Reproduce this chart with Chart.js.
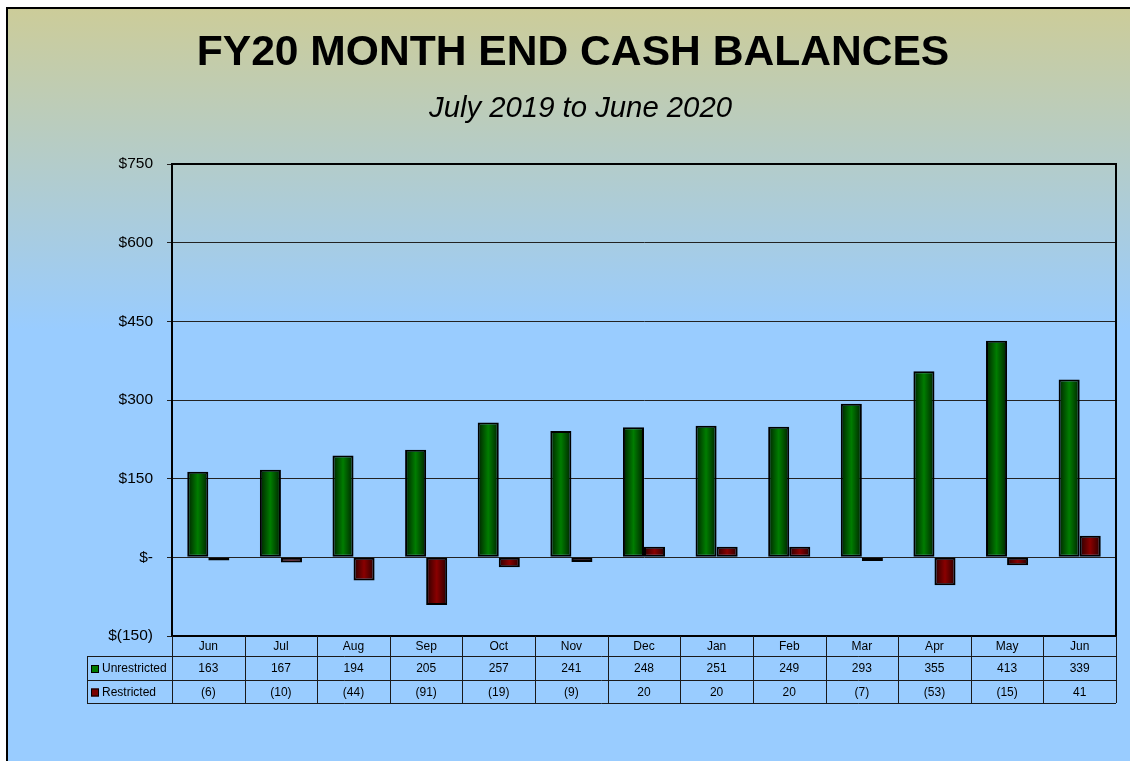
<!DOCTYPE html>
<html>
<head>
<meta charset="utf-8">
<title>FY20 Month End Cash Balances</title>
<script src="https://cdn.jsdelivr.net/npm/chart.js@4"></script>
<style>
  html, body { margin: 0; padding: 0; background: #fff; }
  canvas { display: block; }
</style>
</head>
<body>
<canvas id="cash-chart" width="1130" height="761"></canvas>
<script>
// values in $ millions
const months = ['Jun', 'Jul', 'Aug', 'Sep', 'Oct', 'Nov', 'Dec', 'Jan', 'Feb', 'Mar', 'Apr', 'May', 'Jun'];
const unrestricted = [163, 167, 194, 205, 257, 241, 248, 251, 249, 293, 355, 413, 339];
const restricted = [-6, -10, -44, -91, -19, -9, 20, 20, 20, -7, -53, -15, 41];
const seriesNames = ['Unrestricted', 'Restricted'];
const yTicks = [-150, 0, 150, 300, 450, 600, 750];

const FONT = '"Liberation Sans", Arial, sans-serif';
const CAT_PCT = 0.58;

function money(v) {
  if (v === 0) return '$-';
  if (v < 0) return '$(' + Math.abs(v) + ')';
  return '$' + v;
}

function tableNum(v) {
  return v < 0 ? '(' + Math.abs(v) + ')' : String(v);
}

// horizontal shading on each bar, edges dark, middle light
function barFill(dark, light) {
  return (ctx) => {
    const chart = ctx.chart;
    const xs = chart.scales.x;
    if (!xs || ctx.type !== 'data') return light;
    const half = (xs.right - xs.left) / months.length * CAT_PCT / 2;
    const cx = xs.getPixelForValue(ctx.dataIndex);
    const x0 = ctx.datasetIndex === 0 ? cx - half : cx;
    if (!isFinite(x0) || half <= 0) return light;
    const g = chart.ctx.createLinearGradient(x0, 0, x0 + half, 0);
    g.addColorStop(0, dark);
    g.addColorStop(0.5, light);
    g.addColorStop(1, dark);
    return g;
  };
}

const backdrop = {
  id: 'backdrop',
  beforeDraw(chart) {
    const { ctx, width, height } = chart;
    ctx.save();
    ctx.fillStyle = '#fff';
    ctx.fillRect(0, 0, width, height);
    const g = ctx.createLinearGradient(0, 9, 0, 330);
    g.addColorStop(0, '#cccc99');
    g.addColorStop(1, '#99ccff');
    ctx.fillStyle = g;
    ctx.fillRect(8, 9, width - 8, height - 9);
    ctx.strokeStyle = '#000';
    ctx.lineWidth = 2;
    ctx.beginPath();
    ctx.moveTo(7, height);
    ctx.lineTo(7, 8);
    ctx.lineTo(width, 8);
    ctx.stroke();

    ctx.fillStyle = '#000';
    ctx.textAlign = 'center';
    ctx.textBaseline = 'alphabetic';
    ctx.font = 'bold 42.6px ' + FONT;
    ctx.fillText('FY20 MONTH END CASH BALANCES', 573, 65);
    ctx.font = 'italic 29.3px ' + FONT;
    ctx.fillText('July 2019 to June 2020', 580.5, 117);
    ctx.restore();
  }
};

const frameAndTable = {
  id: 'frameAndTable',
  afterDraw(chart) {
    const { ctx, chartArea } = chart;
    const xs = chart.scales.x;
    const L = chartArea.left, R = chartArea.right, B = chartArea.bottom;
    const cw = (R - L) / months.length;
    const rows = [B, B + 20, B + 44, B + 67];
    const legendLeft = 87;

    ctx.save();
    // plot frame
    ctx.strokeStyle = '#000';
    ctx.lineWidth = 2;
    ctx.strokeRect(L, chartArea.top, R - L, B - chartArea.top);

    // table grid
    ctx.strokeStyle = '#1a1a1a';
    ctx.lineWidth = 1;
    ctx.beginPath();
    for (let r = 1; r < rows.length; r++) {
      ctx.moveTo(legendLeft, Math.round(rows[r]) + 0.5);
      ctx.lineTo(R, Math.round(rows[r]) + 0.5);
    }
    ctx.moveTo(legendLeft + 0.5, rows[1]);
    ctx.lineTo(legendLeft + 0.5, rows[3]);
    for (let i = 0; i <= months.length; i++) {
      const x = Math.round(L + i * cw) + 0.5;
      ctx.moveTo(x, B);
      ctx.lineTo(x, rows[3]);
    }
    ctx.stroke();

    // cell text
    ctx.fillStyle = '#000';
    ctx.font = '12px ' + FONT;
    ctx.textAlign = 'center';
    ctx.textBaseline = 'middle';
    months.forEach((m, i) => {
      const x = xs.getPixelForValue(i);
      ctx.fillText(m, x, (rows[0] + rows[1]) / 2 + 1);
      ctx.fillText(tableNum(unrestricted[i]), x, (rows[1] + rows[2]) / 2 + 1);
      ctx.fillText(tableNum(restricted[i]), x, (rows[2] + rows[3]) / 2 + 1);
    });

    // legend keys
    const keyColors = ['#007a00', '#7a0000'];
    seriesNames.forEach((name, k) => {
      const cy = (rows[k + 1] + rows[k + 2]) / 2 + 1;
      ctx.fillStyle = keyColors[k];
      ctx.fillRect(91, cy - 4, 8, 8);
      ctx.strokeStyle = '#000';
      ctx.lineWidth = 1;
      ctx.strokeRect(91.5, cy - 3.5, 7, 7);
      ctx.fillStyle = '#000';
      ctx.textAlign = 'left';
      ctx.fillText(name, 102, cy);
    });
    ctx.restore();
  }
};

const ctx = document.getElementById('cash-chart').getContext('2d');
new Chart(ctx, {
  type: 'bar',
  data: {
    labels: months,
    datasets: [
      {
        label: seriesNames[0],
        data: unrestricted,
        backgroundColor: barFill('#002000', '#007d00'),
        borderColor: '#000',
        borderWidth: 2,
        borderSkipped: false,
      },
      {
        label: seriesNames[1],
        data: restricted,
        backgroundColor: barFill('#280000', '#8a0000'),
        borderColor: '#000',
        borderWidth: 2,
        borderSkipped: false,
      },
    ],
  },
  options: {
    responsive: false,
    animation: false,
    devicePixelRatio: 1,
    categoryPercentage: CAT_PCT,
    barPercentage: 1,
    layout: { padding: { top: 164, bottom: 125, left: 0, right: 14 } },
    plugins: {
      legend: { display: false },
      tooltip: { enabled: false },
      title: { display: false },
    },
    scales: {
      x: { display: false },
      y: {
        min: yTicks[0],
        max: yTicks[yTicks.length - 1],
        afterBuildTicks: (scale) => { scale.ticks = yTicks.map(v => ({ value: v })); },
        afterFit: (scale) => { scale.width = 172; },
        border: { color: '#000', width: 2 },
        grid: { color: '#222', lineWidth: 1, tickLength: 5 },
        ticks: {
          padding: 14,
          color: '#000',
          font: { family: FONT, size: 15.5 },
          callback: (v) => money(v),
        },
      },
    },
  },
  plugins: [backdrop, frameAndTable],
});
</script>
</body>
</html>
